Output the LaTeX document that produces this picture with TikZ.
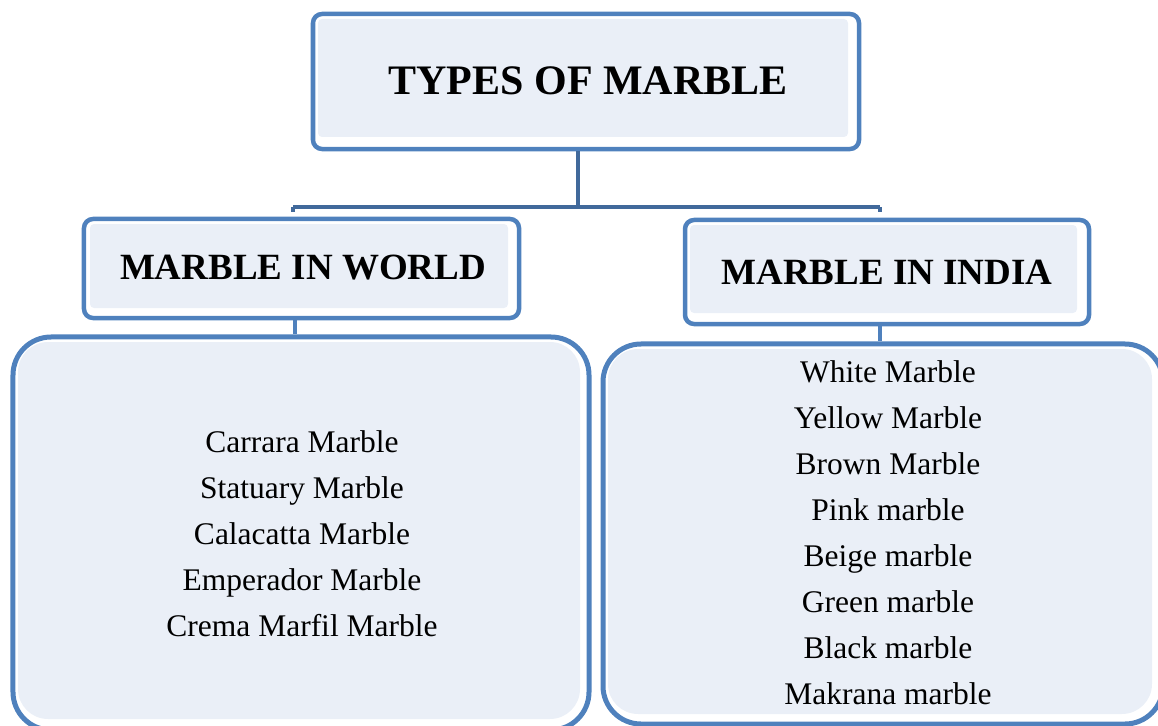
\documentclass[tikz,border=0pt]{standalone}
\usepackage{fontspec}
\setmainfont{Liberation Serif}
\definecolor{bord}{HTML}{4F81BD}
\definecolor{boxfill}{HTML}{EAEFF7}
\definecolor{conn}{HTML}{41699B}
\tikzset{
  frame/.style={draw=bord, line width=4.5bp, rounded corners=9bp, inner sep=0pt},
  bigframe/.style={draw=bord, line width=5bp, rounded corners=38bp, inner sep=0pt},
  inner/.style={fill=boxfill, rounded corners=4bp},
  connline/.style={draw=conn, line width=4bp},
  ticklink/.style={draw=bord, line width=3.5bp},
  title/.style={font=\fontsize{42bp}{50bp}\selectfont\bfseries},
  head/.style={font=\fontsize{37bp}{44bp}\selectfont\bfseries},
  listtxt/.style={font=\fontsize{31.5bp}{46bp}\selectfont, align=center}
}
\begin{document}
\begin{tikzpicture}[x=1bp, y=-1bp]
\useasboundingbox (0,0) rectangle (1158,726);
% fills
\fill[inner] (318,19) rectangle (848,137);
\fill[inner] (90,224) rectangle (508,308);
\fill[inner] (690,225) rectangle (1077,313);
\fill[inner, rounded corners=30bp] (18,342) rectangle (580,719);
\fill[inner, rounded corners=30bp] (608,349) rectangle (1152,714);
% boxes
\node[frame, minimum width=546bp, minimum height=135bp] (top) at (586,81.5) {};
\node[title] (toptxt) at (588,81) {TYPES OF MARBLE};
\node[frame, minimum width=435bp, minimum height=99bp] (worldh) at (301.5,268.5) {};
\node[head] (worldtxt) at (303,268) {MARBLE IN WORLD};
\node[frame, minimum width=404bp, minimum height=104bp] (indiah) at (887,272) {};
\node[head] (indiatxt) at (887,272) {MARBLE IN INDIA};
\node[bigframe, minimum width=576bp, minimum height=393bp] (worldl) at (301,533.5) {};
\node[listtxt] (worldlist) at (302,534) {Carrara Marble\\Statuary Marble\\Calacatta Marble\\Emperador Marble\\Crema Marfil Marble};
\node[bigframe, minimum width=560bp, minimum height=380bp] (indial) at (883,534) {};
\node[listtxt] (indialist) at (888,533) {White Marble\\Yellow Marble\\Brown Marble\\Pink marble\\Beige marble\\Green marble\\Black marble\\Makrana marble};
% connectors
\coordinate (jn) at (578,207);
\coordinate (bl) at (293,207);
\coordinate (br) at (880,207);
\draw[connline] (top.south -| jn) -- (jn);
\draw[connline] (bl) -- (br);
\draw[connline] (bl) -- ++(0,5);
\draw[connline] (br) -- ++(0,5);
\coordinate (wt) at (295,318);
\coordinate (it) at (880,324);
\draw[ticklink] (wt) -- (wt |- worldl.north);
\draw[ticklink] (it) -- (it |- indial.north);
\end{tikzpicture}
\end{document}
